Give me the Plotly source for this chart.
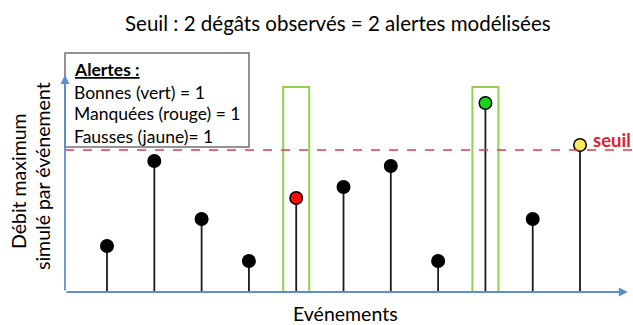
import plotly.graph_objects as go

# ---- data ----
evenements = list(range(1, 12))
debit_max = [46, 131, 73, 31, 94, 105, 126, 31, 189, 73, 147]
seuil = 142
degats_observes = [5, 9]          # events with observed damage
hauteur_cadre = 205
titre = "Seuil : 2 dégâts observés = 2 alertes modélisées"
legende_titre = "Alertes :"
legende_lignes = ["Bonnes (vert) = 1", "Manquées (rouge) = 1", "Fausses (jaune)= 1"]
label_y = ["Débit maximum", "simulé par événement"]
label_x = "Evénements"

FONT = "Lato"
OFF = 0                      # page body margin (removed by post_script)
W, H = 633 - OFF, 325 - OFF
L, T = 65 - OFF, 52 - OFF
R = 0
PW = W - L - R
PH = 240
B = H - T - PH
XMIN, XMAX = 0.112, 12.12
YMIN, YMAX = 0, 240
AX_END = 12.01
YAX_END = 217


def px_x(px):
    return (px - OFF - L) / PW


def px_y(py):
    return (PH - (py - OFF - T)) / PH


# colours by status
colors = []
for e, v in zip(evenements, debit_max):
    obs = e in degats_observes
    if obs and v >= seuil:
        colors.append("#1fd11f")
    elif obs:
        colors.append("#ff0a0a")
    elif v >= seuil:
        colors.append("#f7ea5e")
    else:
        colors.append("black")

fig = go.Figure()

# stems
sx, sy = [], []
for e, v in zip(evenements, debit_max):
    sx += [e, e, None]
    sy += [0, v, None]
fig.add_trace(go.Scatter(x=sx, y=sy, mode="lines", line=dict(color="#1a1a1a", width=1.8),
                         hoverinfo="skip", showlegend=False))

shapes = []
# green frames for observed damages
for e in degats_observes:
    shapes.append(dict(type="rect", xref="x", yref="y", x0=e - 0.275, x1=e + 0.275,
                       y0=0, y1=hauteur_cadre, line=dict(color="#92d050", width=2),
                       fillcolor="rgba(0,0,0,0)", layer="below"))
# threshold
shapes.append(dict(type="line", xref="x", yref="y", x0=XMIN, x1=XMAX, y0=seuil, y1=seuil,
                   line=dict(color="#e23a48", width=1.4, dash="dash")))

fig.add_trace(go.Scatter(x=evenements, y=debit_max, mode="markers",
                         marker=dict(size=12.5, color=colors, line=dict(color="black", width=1.5)),
                         hoverinfo="skip", showlegend=False))

# legend box (drawn over axis)
shapes.append(dict(type="rect", xref="paper", yref="paper", x0=px_x(65), x1=px_x(249),
                   y0=px_y(147), y1=px_y(53),
                   line=dict(color="#6f6f6f", width=1.5), fillcolor="white", layer="above"))

annotations = []
# axes arrows
annotations.append(dict(x=AX_END, y=0, ax=XMIN, ay=0, xref="x", yref="y", axref="x", ayref="y",
                        showarrow=True, arrowhead=2, arrowsize=1, arrowwidth=1.8,
                        arrowcolor="#5b8fd0", text=""))
annotations.append(dict(x=XMIN, y=YAX_END, ax=XMIN, ay=0, xref="x", yref="y", axref="x", ayref="y",
                        showarrow=True, arrowhead=2, arrowsize=1, arrowwidth=1.8,
                        arrowcolor="#5b8fd0", text=""))

# seuil label
annotations.append(dict(x=XMAX, y=seuil, xref="x", yref="y", xanchor="right", yanchor="middle",
                        yshift=10, text="<b>seuil</b>", showarrow=False,
                        font=dict(family=FONT, size=18.5, color="#e0202c")))

# legend text
lines = ["<b><u>" + legende_titre + "</u></b>"] + legende_lignes
ys = [70, 92, 113, 136]
for txt, ypx in zip(lines, ys):
    annotations.append(dict(x=px_x(72), y=px_y(ypx), xref="paper", yref="paper",
                            xanchor="left", yanchor="middle", text=txt, showarrow=False,
                            font=dict(family=FONT, size=17.5, color="black")))

# y label (two rotated lines)
annotations.append(dict(x=px_x(18), y=px_y(181), xref="paper", yref="paper",
                        xanchor="center", yanchor="middle", textangle=-90, text=label_y[0],
                        showarrow=False, font=dict(family=FONT, size=19.5, color="black")))
annotations.append(dict(x=px_x(42), y=px_y(176), xref="paper", yref="paper",
                        xanchor="center", yanchor="middle", textangle=-90, text=label_y[1],
                        showarrow=False, font=dict(family=FONT, size=19.5, color="black")))

# x label
annotations.append(dict(x=px_x(345), y=px_y(313), xref="paper", yref="paper",
                        xanchor="center", yanchor="middle", text=label_x,
                        showarrow=False, font=dict(family=FONT, size=19.5, color="black")))

# title
annotations.append(dict(x=px_x(338), y=px_y(23), xref="paper", yref="paper",
                        xanchor="center", yanchor="middle", text=titre,
                        showarrow=False, font=dict(family=FONT, size=20.5, color="black")))

fig.update_layout(
    width=W, height=H,
    margin=dict(l=L, r=R, t=T, b=B, pad=0),
    paper_bgcolor="white", plot_bgcolor="white",
    xaxis=dict(range=[XMIN, XMAX], visible=False, fixedrange=True),
    yaxis=dict(range=[YMIN, YMAX], visible=False, fixedrange=True),
    shapes=shapes, annotations=annotations,
    showlegend=False,
)

fig.write_html("out.html", config={"displayModeBar": False},
               post_script="document.body.style.margin='0';document.body.style.overflow='hidden';")
